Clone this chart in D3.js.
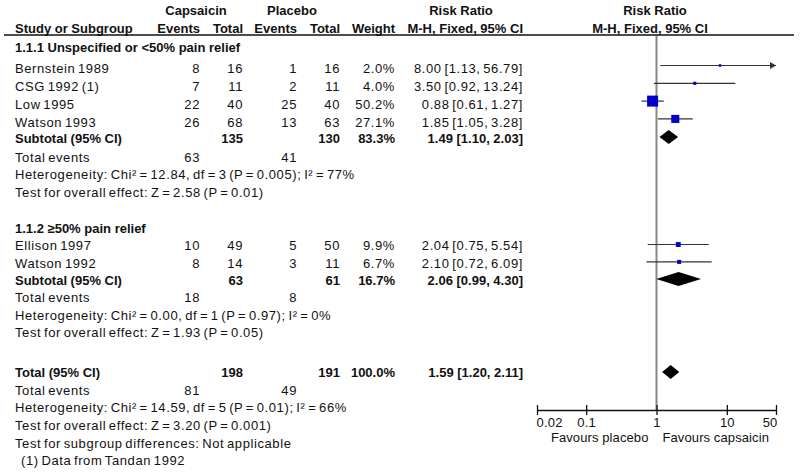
<!DOCTYPE html>
<html>
<head>
<meta charset="utf-8">
<script src="https://cdn.jsdelivr.net/npm/d3@7"></script>
<style>
  body { margin: 0; background: #fff; }
  text { font-family: "Liberation Sans", Arial, sans-serif; font-size: 13px; letter-spacing: 0.6px; word-spacing: -1.5px; fill: #111; }
  text.b { letter-spacing: 0; word-spacing: 0; font-weight: bold; }
</style>
</head>
<body>
<div id="chart"></div>
<script>
// studies
const studies = ["Bernstein 1989", "CSG 1992 (1)", "Low 1995", "Watson 1993", "Ellison 1997", "Watson 1992"];
const studyGroup = [0, 0, 0, 0, 1, 1];
const capsEvents = [8, 7, 22, 26, 10, 8];
const capsTotal = [16, 11, 40, 68, 49, 14];
const placEvents = [1, 2, 25, 13, 5, 3];
const placTotal = [16, 11, 40, 63, 50, 11];
const weights = [2.0, 4.0, 50.2, 27.1, 9.9, 6.7];
const rr = [8.00, 3.50, 0.88, 1.85, 2.04, 2.10];
const rrLow = [1.13, 0.92, 0.61, 1.05, 0.75, 0.72];
const rrHigh = [56.79, 13.24, 1.27, 3.28, 5.54, 6.09];

// subgroups
const groupTitles = ["1.1.1 Unspecified or <50% pain relief", "1.1.2 \u226550% pain relief"];
const subCapsTotal = [135, 63];
const subPlacTotal = [130, 61];
const subWeight = [83.3, 16.7];
const subRR = [1.49, 2.06];
const subLow = [1.10, 0.99];
const subHigh = [2.03, 4.30];
const subCapsEvents = [63, 18];
const subPlacEvents = [41, 8];
const subHet = ["Heterogeneity: Chi\u00b2 = 12.84, df = 3 (P = 0.005); I\u00b2 = 77%",
                "Heterogeneity: Chi\u00b2 = 0.00, df = 1 (P = 0.97); I\u00b2 = 0%"];
const subTest = ["Test for overall effect: Z = 2.58 (P = 0.01)",
                 "Test for overall effect: Z = 1.93 (P = 0.05)"];

// overall
const totCapsTotal = 198, totPlacTotal = 191, totWeight = 100.0;
const totRR = 1.59, totLow = 1.20, totHigh = 2.11;
const totCapsEvents = 81, totPlacEvents = 49;
const totHet = "Heterogeneity: Chi\u00b2 = 14.59, df = 5 (P = 0.01); I\u00b2 = 66%";
const totTest = "Test for overall effect: Z = 3.20 (P = 0.001)";
const subgroupDiff = "Test for subgroup differences: Not applicable";
const footnote = "(1) Data from Tandan 1992";

const axisTicks = [0.02, 0.1, 1, 10, 50];
const favLeft = "Favours placebo", favRight = "Favours capsaicin";

const width = 800, height = 476;
const svg = d3.select("#chart").append("svg")
  .attr("width", width).attr("height", height);

const x = d3.scaleLog().domain([0.02, 50]).range([537, 776]);
const fmt2 = d3.format(".2f");
const ciText = (m, l, h) => fmt2(m) + " [" + fmt2(l) + ", " + fmt2(h) + "]";
const pct = (w) => d3.format(".1f")(w) + "%";

// columns (right edges)
const col = { name: 15, ce: 200, ct: 243, pe: 297, pt: 340, w: 395, rr: 523 };
const base = 4.6;   // text center -> baseline

function txt(xp, y, s, anchor, bold) {
  return svg.append("text")
    .attr("x", xp).attr("y", y + base)
    .attr("text-anchor", anchor || "start")
    .attr("class", bold ? "b" : null)
    .text(s);
}

// headers
txt(196, 10, "Capsaicin", "middle", true);
txt(292, 10, "Placebo", "middle", true);
txt(461, 10, "Risk Ratio", "middle", true);
txt(655, 10, "Risk Ratio", "middle", true);
txt(col.name, 28, "Study or Subgroup", "start", true);
txt(col.ce, 28, "Events", "end", true);
txt(col.ct, 28, "Total", "end", true);
txt(col.pe, 28, "Events", "end", true);
txt(col.pt, 28, "Total", "end", true);
txt(col.w, 28, "Weight", "end", true);
txt(col.rr, 28, "M-H, Fixed, 95% CI", "end", true);
txt(650, 28, "M-H, Fixed, 95% CI", "middle", true);

svg.append("line").attr("x1", 4).attr("x2", 794).attr("y1", 35).attr("y2", 35)
  .attr("stroke", "#111").attr("stroke-width", 1.3);

// row layout per subgroup: title, first study, step, subtotal, total events, mark offset
const layout = [
  { title: 47, first: 68.5, step: 17.8, sub: 138, events: 157, markOff: -3 },
  { title: 228, first: 245.5, step: 17.4, sub: 280, events: 297.5, markOff: -1 }
];
const lineStep = 17.6;
const totalY = 372;

// null line
svg.append("line").attr("x1", x(1)).attr("x2", x(1)).attr("y1", 36).attr("y2", 410)
  .attr("stroke", "#888").attr("stroke-width", 2);

function diamond(y, m, l, h) {
  const hh = 7;
  svg.append("path")
    .attr("d", `M${x(l)},${y} L${x(m)},${y - hh} L${x(h)},${y} L${x(m)},${y + hh} Z`)
    .attr("fill", "#000");
}

groupTitles.forEach((title, g) => {
  const L = layout[g];
  txt(col.name, L.title, title, "start", true);
  const idx = studies.map((s, i) => i).filter(i => studyGroup[i] === g);
  idx.forEach((i, k) => {
    const y = L.first + k * L.step;
    txt(col.name, y, studies[i]);
    txt(col.ce, y, capsEvents[i], "end");
    txt(col.ct, y, capsTotal[i], "end");
    txt(col.pe, y, placEvents[i], "end");
    txt(col.pt, y, placTotal[i], "end");
    txt(col.w, y, pct(weights[i]), "end");
    txt(col.rr, y, ciText(rr[i], rrLow[i], rrHigh[i]), "end");

    const my = y + L.markOff;
    const hiClip = Math.min(rrHigh[i], x.domain()[1]);
    svg.append("line")
      .attr("x1", x(rrLow[i])).attr("x2", x(hiClip))
      .attr("y1", my).attr("y2", my)
      .attr("stroke", "#333").attr("stroke-width", 1.2);
    if (rrHigh[i] > x.domain()[1]) {
      const ax = x(hiClip);
      svg.append("path")
        .attr("d", `M${ax},${my} L${ax - 6},${my - 3.5} L${ax - 6},${my + 3.5} Z`)
        .attr("fill", "#333");
    }
    const s = Math.max(2.5, 11 * Math.sqrt(weights[i] / 50.2));
    svg.append("rect")
      .attr("x", x(rr[i]) - s / 2).attr("y", my - s / 2)
      .attr("width", s).attr("height", s)
      .attr("fill", "#0000c8");
  });
  txt(col.name, L.sub, "Subtotal (95% CI)", "start", true);
  txt(col.ct, L.sub, subCapsTotal[g], "end", true);
  txt(col.pt, L.sub, subPlacTotal[g], "end", true);
  txt(col.w, L.sub, pct(subWeight[g]), "end", true);
  txt(col.rr, L.sub, ciText(subRR[g], subLow[g], subHigh[g]), "end", true);
  diamond(L.sub - 1, subRR[g], subLow[g], subHigh[g]);
  let y = L.events;
  txt(col.name, y, "Total events");
  txt(col.ce, y, subCapsEvents[g], "end");
  txt(col.pe, y, subPlacEvents[g], "end");
  y += lineStep;
  txt(col.name, y, subHet[g]);
  y += lineStep;
  txt(col.name, y, subTest[g]);
});

// overall
let y = totalY;
txt(col.name, y, "Total (95% CI)", "start", true);
txt(col.ct, y, totCapsTotal, "end", true);
txt(col.pt, y, totPlacTotal, "end", true);
txt(col.w, y, pct(totWeight), "end", true);
txt(col.rr, y, ciText(totRR, totLow, totHigh), "end", true);
diamond(y, totRR, totLow, totHigh);
y += lineStep + 0.5;
txt(col.name, y, "Total events");
txt(col.ce, y, totCapsEvents, "end");
txt(col.pe, y, totPlacEvents, "end");
y += lineStep;
txt(col.name, y, totHet);
y += lineStep;
txt(col.name, y, totTest);
y += lineStep;
txt(col.name, y, subgroupDiff);
y += lineStep;
txt(21, y, footnote);

// axis
const axisY = 410;
const axis = d3.axisBottom(x).tickValues(axisTicks).tickSize(0).tickFormat(d => String(d));
const ag = svg.append("g").attr("transform", `translate(0,${axisY})`).call(axis);
ag.select(".domain").attr("stroke", "#111").attr("stroke-width", 1.3);
ag.selectAll(".tick line").remove();
ag.selectAll(".tick").append("line")
  .attr("y1", -5).attr("y2", 5).attr("stroke", "#111").attr("stroke-width", 1.3);
ag.selectAll(".tick text")
  .attr("y", 16.5).attr("dy", null)
  .style("font-family", '"Liberation Sans", Arial, sans-serif')
  .style("font-size", "13px").style("letter-spacing", "0.2px").attr("fill", "#222")
  .attr("text-anchor", d => d === axisTicks[0] ? "start" : d === axisTicks[axisTicks.length - 1] ? "end" : "middle")
  .attr("dx", d => d === axisTicks[0] ? -1 : d === axisTicks[axisTicks.length - 1] ? 1 : 0);
txt(x(1) - 8, 437, favLeft, "end").attr("fill", "#222")
  .style("letter-spacing", "0.1px").style("word-spacing", "0");
txt(x(1) + 6, 437, favRight, "start").attr("fill", "#222")
  .style("letter-spacing", "0.1px").style("word-spacing", "0");
</script>
</body>
</html>
